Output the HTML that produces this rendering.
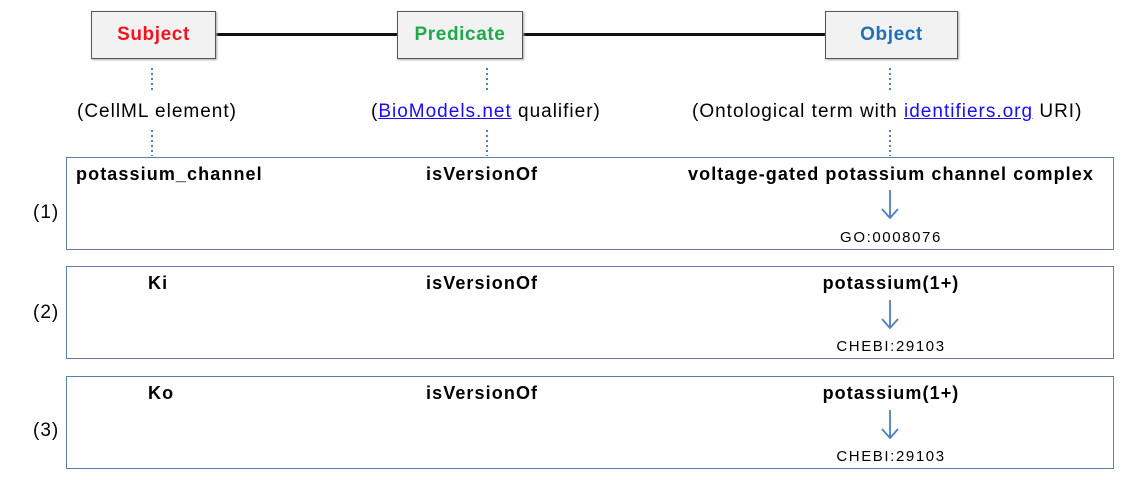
<!DOCTYPE html>
<html><head><style>
body{margin:0;width:1126px;height:482px;background:#fff;position:relative;font-family:"Liberation Sans",sans-serif;overflow:hidden}
.a{position:absolute}
.hb{position:absolute;top:11px;height:46px;background:#f2f2f2;border:1.5px solid #555;box-shadow:1px 1px 2px #aaa;font-weight:bold;font-size:19px;letter-spacing:0.6px;display:flex;align-items:center;justify-content:center}
.row{position:absolute;left:66px;width:1046px;height:91px;border:1.5px solid #5b7fa8}
.t{position:absolute;font-size:19px;letter-spacing:1px;white-space:nowrap}
.b{font-weight:bold;font-size:18px;letter-spacing:1.1px}
.s{font-size:15px;letter-spacing:1.6px}
.c{transform:translateX(-50%)}
a{color:#1a0dff;text-decoration:underline}
</style></head><body>
<div class="a" style="left:214px;top:33px;width:612px;height:3px;background:#111"></div>
<div class="hb" style="left:91px;width:123px;color:#f0141e">Subject</div>
<div class="hb" style="left:397px;width:124px;color:#1fa84c">Predicate</div>
<div class="hb" style="left:825px;width:131px;color:#1f6fb8">Object</div>
<svg class="a" style="left:0;top:0" width="1126" height="482">
<g stroke="#4f7fbf" stroke-width="2" stroke-dasharray="2,3">
<line x1="152" y1="68" x2="152" y2="93"/><line x1="152" y1="130" x2="152" y2="156"/>
<line x1="487" y1="68" x2="487" y2="93"/><line x1="487" y1="130" x2="487" y2="156"/>
<line x1="890" y1="68" x2="890" y2="93"/><line x1="890" y1="130" x2="890" y2="156"/>
</g>
<g stroke="#4f7fbf" stroke-width="1.8" fill="none">
<path d="M890 190V218M882 209L890 218L898 209"/>
<path d="M890 300V328M882 319L890 328L898 319"/>
<path d="M890 410V438M882 429L890 438L898 429"/>
</g></svg>
<div class="t" style="left:77px;top:101px">(CellML element)</div>
<div class="t" style="left:371px;top:101px">(<a>BioModels.net</a> qualifier)</div>
<div class="t" style="left:692px;top:101px">(Ontological term with <a>identifiers.org</a> URI)</div>
<div class="row" style="top:157px"></div>
<div class="row" style="top:266px"></div>
<div class="row" style="top:376px"></div>
<div class="t b" style="left:76px;top:164px">potassium_channel</div>
<div class="t b" style="left:426px;top:164px">isVersionOf</div>
<div class="t b" style="left:688px;top:164px">voltage-gated potassium channel complex</div>
<div class="t c s" style="left:891px;top:229px">GO:0008076</div>
<div class="t" style="left:33px;top:202px">(1)</div>
<div class="t b" style="left:148px;top:273px">Ki</div>
<div class="t b" style="left:426px;top:273px">isVersionOf</div>
<div class="t b c" style="left:891px;top:273px">potassium(1+)</div>
<div class="t c s" style="left:891px;top:338px">CHEBI:29103</div>
<div class="t" style="left:33px;top:302px">(2)</div>
<div class="t b" style="left:148px;top:383px">Ko</div>
<div class="t b" style="left:426px;top:383px">isVersionOf</div>
<div class="t b c" style="left:891px;top:383px">potassium(1+)</div>
<div class="t c s" style="left:891px;top:448px">CHEBI:29103</div>
<div class="t" style="left:33px;top:420px">(3)</div>
</body></html>
